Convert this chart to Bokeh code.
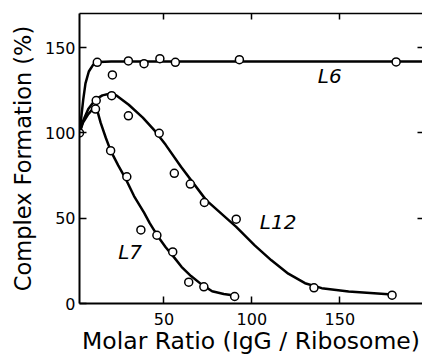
from bokeh.plotting import figure
from bokeh.models import Range1d, LinearAxis, FixedTicker, ColumnDataSource
from bokeh.core.properties import value
from bokeh.embed import file_html
from bokeh.resources import INLINE

# ---- data ----
l6_x = [2, 12.1, 20.7, 29.8, 38.7, 47.7, 56.5, 92.9, 182]
l6_y = [100, 141.4, 134, 142.2, 140.6, 143.5, 141.4, 142.9, 141.6]

l12_x = [11.5, 20.3, 29.8, 47.3, 55.9, 65, 73, 91.1, 135.3, 179.7]
l12_y = [119, 121.8, 110, 99.8, 76.3, 70, 59.2, 49.4, 9.2, 4.9]

l7_x = [11.1, 19.7, 28.9, 36.9, 46, 55, 64.1, 72.7, 90.2]
l7_y = [114, 89.6, 74.3, 43.1, 40, 30.2, 12.5, 9.8, 4.1]

# fitted curves
c6_x = [2, 3.1, 4.1, 5.4, 7.3, 9.8, 13, 20, 197]
c6_y = [100, 110, 119.4, 129, 136, 140, 141.6, 141.8, 141.8]

c12_x = [2, 4, 7, 11, 15, 19, 23, 30, 38, 45, 51, 59.7, 74, 91.1, 101.6, 111.1,
         120.7, 130.2, 139.7, 155, 179.7]
c12_y = [100, 107, 114, 119.5, 122, 123, 122, 116.5, 109, 101, 93, 80.2, 60.6,
         44.9, 34.1, 25.3, 17.5, 11.9, 9, 7.1, 5.3]

c7_x = [2, 4, 7, 10, 12, 14, 17, 19.7, 24, 28.3, 33, 38.7, 42, 46.4, 51, 55.9,
        60, 65.4, 71, 77.4, 84, 90]
c7_y = [100, 106, 111, 114.5, 113.5, 106, 97, 89.6, 81, 73, 63, 53.3, 47, 39.6,
        33, 26.9, 21.5, 16.1, 11.5, 7.2, 5.6, 4.7]

lab_x = [137.5, 104.5, 24]
lab_y = [133.5, 48, 30]
lab_text = ["L6", "L12", "L7"]

x_ticks = [50, 100, 150]
y_ticks = [0, 50, 100, 150]

p = figure(width=422, height=358, output_backend="svg", toolbar_location=None,
           x_range=Range1d(2, 197), y_range=Range1d(0, 170),
           min_border_left=79, min_border_right=0, min_border_top=13,
           min_border_bottom=55)
p.outline_line_color = None
p.grid.visible = False
p.background_fill_color = "white"
p.border_fill_color = "white"

for ax in (p.xaxis[0], p.yaxis[0]):
    ax.axis_line_width = 2
    ax.axis_line_color = "black"
    ax.major_tick_in = 7
    ax.major_tick_out = 0
    ax.major_tick_line_width = 1.5
    ax.minor_tick_line_color = None
    ax.major_label_text_font = "DejaVu Sans"
    ax.major_label_text_font_size = "16px"
    ax.major_label_text_color = "black"
    ax.axis_label_text_font = "DejaVu Sans"
    ax.axis_label_text_font_style = "normal"
    ax.axis_label_text_color = "black"

p.xaxis[0].ticker = FixedTicker(ticks=x_ticks)
p.yaxis[0].ticker = FixedTicker(ticks=y_ticks)
p.xaxis[0].axis_label = "Molar Ratio (IgG / Ribosome)"
p.yaxis[0].axis_label = "Complex Formation (%)"
p.xaxis[0].axis_label_text_font_size = "23.5px"
p.yaxis[0].axis_label_text_font_size = "22.5px"
p.xaxis[0].major_label_standoff = 9
p.yaxis[0].major_label_standoff = 4
p.xaxis[0].axis_label_standoff = -1
p.yaxis[0].axis_label_standoff = 6

top = LinearAxis(ticker=FixedTicker(ticks=x_ticks), axis_line_width=1.5,
                 major_tick_in=6, major_tick_out=0, major_tick_line_width=1.5,
                 minor_tick_line_color=None, major_label_text_font_size="1px",
                 major_label_text_color=None, major_label_standoff=0)
p.add_layout(top, "above")
right = LinearAxis(ticker=FixedTicker(ticks=[50, 100, 150]), axis_line_color=None,
                   major_tick_in=5, major_tick_out=0, major_tick_line_width=1.5,
                   minor_tick_line_color=None, major_label_text_font_size="1px",
                   major_label_text_color=None, major_label_standoff=0)
p.add_layout(right, "right")

for cx, cy in ((c6_x, c6_y), (c12_x, c12_y), (c7_x, c7_y)):
    p.line(cx, cy, line_color="black", line_width=2.5, line_join="round")

for px, py in ((l6_x, l6_y), (l12_x, l12_y), (l7_x, l7_y)):
    p.scatter(px, py, marker="circle", size=8, fill_color="white",
              line_color="black", line_width=1.5)

src = ColumnDataSource(dict(x=lab_x, y=lab_y, t=lab_text))
p.text(x="x", y="y", text="t", source=src, text_font=value("DejaVu Sans"),
       text_font_style="italic", text_font_size="20px", text_color="black",
       text_baseline="alphabetic", text_align="left")

open("out.html", "w").write(file_html(p, INLINE))
